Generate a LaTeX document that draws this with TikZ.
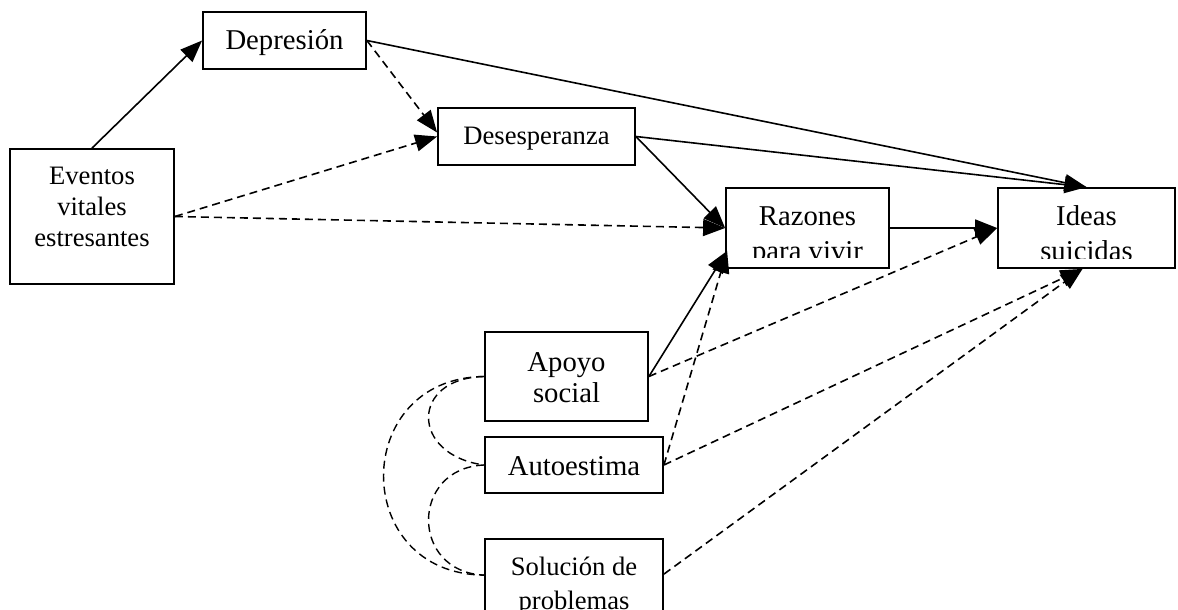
\documentclass[tikz,border=0pt]{standalone}
\usepackage{fontspec}
\setmainfont{Liberation Serif}
\usetikzlibrary{arrows.meta,calc}
\begin{document}
\begin{tikzpicture}[x=1pt,y=-1pt,
  box/.style={draw,line width=1.8pt,rectangle,inner sep=0pt},
  big/.style={font=\fontsize{28.7}{33}\selectfont,inner sep=0pt,anchor=base},
  small/.style={font=\fontsize{26.6}{31}\selectfont,inner sep=0pt,anchor=base},
  link/.style={line width=1.6pt,-{Triangle[length=22pt,width=17pt]}},
  dlink/.style={link,dash pattern=on 8pt off 5pt},
  corr/.style={line width=1.4pt,dash pattern=on 8pt off 5pt}]
\clip (0,0) rectangle (1178,610);

% boxes
\node[box,minimum width=163pt,minimum height=57pt]  (dep) at (284.5,40.5) {};
\node[box,minimum width=197pt,minimum height=57pt]  (des) at (536.5,136.5) {};
\node[box,minimum width=164pt,minimum height=135pt] (ev)  at (92,216.5) {};
\node[box,minimum width=163pt,minimum height=80pt]  (raz) at (807.5,228) {};
\node[box,minimum width=177pt,minimum height=80pt]  (ide) at (1086.5,228) {};
\node[box,minimum width=163pt,minimum height=89pt]  (apo) at (566.5,376.5) {};
\node[box,minimum width=178pt,minimum height=56pt]  (aut) at (574,465) {};
\node[box,minimum width=178pt,minimum height=90pt]  (sol) at (574,584) {};

% labels
\node[big]   (tdep)  at (284.5,50)  {Depresión};
\node[small] (tdes)  at (536.5,144) {Desesperanza};
\node[small] (tev1)  at (92,184)    {Eventos};
\node[small] (tev2)  at (92,215)    {vitales};
\node[small] (tev3)  at (92,246)    {estresantes};
\node[big]   (traz1) at (807.5,225) {Razones};
\node[big]   (tide1) at (1086.5,225) {Ideas};
\node[big]   (tapo1) at (566.5,371) {Apoyo};
\node[big]   (tapo2) at (566.5,402) {social};
\node[big]   (taut)  at (574,475)   {Autoestima};
\node[small] (tsol1) at (574,575)   {Solución de};
\node[small] (tsol2) at (574,609.5) {problemas};
\begin{scope}
  \clip (726,188) rectangle (889,257.5);
  \node[big] (traz2) at (807.5,260) {para vivir};
\end{scope}
\begin{scope}
  \clip (998,188) rectangle (1175,258);
  \node[big] (tide2) at (1086.5,260) {suicidas};
\end{scope}

% paths
\draw[link] (ev.north) -- (dep.west);
\draw[link] (dep.east) -- (ide.north);
\draw[link] (des.east) -- (ide.north);
\draw[link] (des.east) -- (raz.west);
\draw[link] (raz.east) -- (ide.west);
\draw[link] (apo.east) -- ($(raz.south west)+(2,-18)$);
\draw[dlink] (dep.east) -- ($(des.west)+(0,-4)$);
\draw[dlink] (ev.east) -- (des.west);
\draw[dlink] (ev.east) -- (raz.west);
\draw[dlink] (apo.east) -- (ide.west);
\draw[dlink] (aut.east) -- ($(raz.south west)+(2,-18)$);
\draw[dlink] (aut.east) -- ($(ide.south)+(-4,0)$);
\draw[dlink] ($(sol.north east)+(0,36)$) -- ($(ide.south)+(-4,0)$);

% correlations
\draw[corr] (apo.west) .. controls (410,378) and (410,455) .. (aut.west);
\draw[corr] (aut.west) .. controls (410,468) and (410,572) .. ($(sol.north west)+(0,37)$);
\draw[corr] (apo.west) .. controls (350,378) and (350,574) .. ($(sol.north west)+(0,37)$);
\end{tikzpicture}
\end{document}
